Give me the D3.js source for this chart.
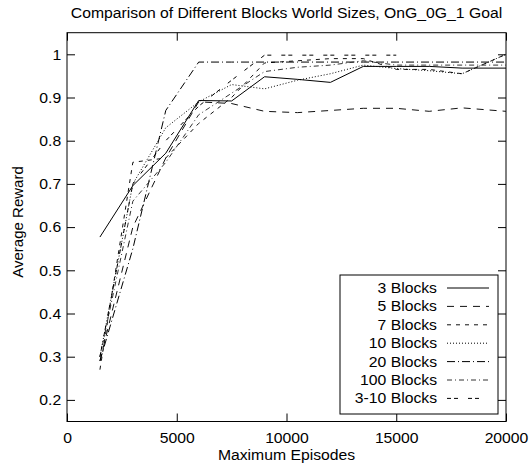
<!DOCTYPE html>
<html>
<head>
<meta charset="utf-8">
<script src="https://cdn.jsdelivr.net/npm/d3@7/dist/d3.min.js"></script>
<style>
  html, body { margin: 0; padding: 0; background: #fff; }
  svg text { font-family: "Liberation Sans", Arial, Helvetica, sans-serif; fill: #000; }
</style>
</head>
<body>
<svg id="chart" width="531" height="465"></svg>
<script>
// Episode counts at which each run was evaluated
const episodes = [1500, 3000, 4500, 6000, 7500, 9000, 10500, 12000, 13500, 15000, 16500, 18000, 20000];

// Average reward per world size
const blocks3   = [0.577, 0.696, 0.771, 0.893, 0.892, 0.948, 0.942, 0.935, 0.972, 0.972, 0.972, 0.968, 0.968];
const blocks5   = [0.290, 0.600, 0.760, 0.890, 0.886, 0.868, 0.865, 0.870, 0.875, 0.875, 0.868, 0.876, 0.868];
const blocks7   = [0.270, 0.750, 0.760, 0.840, 0.900, 0.980, 0.985, 0.990, 0.990, 0.965, 0.965, 0.955, 1.000];
const blocks10  = [0.300, 0.700, 0.830, 0.890, 0.930, 0.920, 0.940, 0.955, 0.975, 0.967, 0.962, 0.955, 1.000];
const blocks20  = [0.290, 0.550, 0.870, 0.982, 0.982, 0.982, 0.982, 0.982, 0.982, 0.982, 0.982, 0.982, 0.982];
const blocks100 = [0.300, 0.660, 0.750, 0.860, 0.910, 0.960, 0.970, 0.975, 0.985, 0.975, 0.975, 0.975, 0.975];
const blocks3to10 = [0.300, 0.700, 0.800, 0.880, 0.940, 0.998, 0.998, 0.998, 0.998, 0.998];

const seriesNames = ["3 Blocks", "5 Blocks", "7 Blocks", "10 Blocks", "20 Blocks", "100 Blocks", "3-10 Blocks"];
const seriesValues = [blocks3, blocks5, blocks7, blocks10, blocks20, blocks100, blocks3to10];
const seriesDash = ["none", "7,6", "4,5", "1,2", "8,3,1,3", "5,3,1,3", "4,3,4,10"];
const seriesColor = ["#000", "#111", "#111", "#000", "#000", "#333", "#000"];

const xTicks = [0, 5000, 10000, 15000, 20000];
const yTicks = [0.2, 0.3, 0.4, 0.5, 0.6, 0.7, 0.8, 0.9, 1];

const titleText = "Comparison of Different Blocks World Sizes, OnG_0G_1 Goal";
const xLabel = "Maximum Episodes";
const yLabel = "Average Reward";

const svg = d3.select("#chart");
const mLeft = 67, mRight = 506, mTop = 32.7, mBottom = 421.5;
const fontSize = 15;
const stretch = 1.05;   // glyphs are slightly wider than tall in this layout

const x = d3.scaleLinear().domain([0, 20000]).range([mLeft, mRight]);
const y = d3.scaleLinear().domain([0.15, 1.05]).range([mBottom, mTop]);
const tickLen = 8;

// Horizontal text helper: positioned by translate, widened by a horizontal scale
function hText(parent, tx, ty, str, anchor) {
  return parent.append("text")
    .attr("transform", `translate(${tx},${ty}) scale(${stretch},1)`)
    .attr("text-anchor", anchor || "middle")
    .style("font-size", fontSize + "px")
    .text(str);
}

// Title
hText(svg, (mLeft + mRight) / 2, 18, titleText);

// Axes with inward ticks; mirrored ticks on top and right
const gBottom = svg.append("g").attr("transform", `translate(0,${mBottom})`)
  .call(d3.axisBottom(x).tickValues(xTicks).tickSizeInner(-tickLen).tickSizeOuter(0).tickPadding(11).tickFormat(d3.format("d")));
const gTop = svg.append("g").attr("transform", `translate(0,${mTop})`)
  .call(d3.axisTop(x).tickValues(xTicks).tickSizeInner(-tickLen).tickSizeOuter(0).tickFormat(""));
const gLeft = svg.append("g").attr("transform", `translate(${mLeft},0)`)
  .call(d3.axisLeft(y).tickValues(yTicks).tickSizeInner(-tickLen).tickSizeOuter(0).tickPadding(5.5).tickFormat(d => d === 1 ? "1" : d3.format(".1f")(d)));
const gRight = svg.append("g").attr("transform", `translate(${mRight},0)`)
  .call(d3.axisRight(y).tickValues(yTicks).tickSizeInner(-tickLen).tickSizeOuter(0).tickFormat(""));

[gBottom, gTop, gLeft, gRight].forEach(g => {
  g.select(".domain").remove();
  g.selectAll(".tick line").attr("stroke", "#000").attr("stroke-width", 1);
  g.selectAll(".tick text")
    .style("font-size", fontSize + "px")
    .attr("transform", `scale(${stretch},1)`);
});

// Plot frame
svg.append("rect")
  .attr("x", mLeft).attr("y", mTop).attr("width", mRight - mLeft).attr("height", mBottom - mTop)
  .attr("fill", "none").attr("stroke", "#000").attr("stroke-width", 1);

// Axis titles
hText(svg, (mLeft + mRight) / 2, 460, xLabel);
svg.append("text")
  .attr("transform", `translate(23,222) rotate(-90)`)
  .attr("text-anchor", "middle").style("font-size", fontSize + "px")
  .text(yLabel);

// Series lines
const line = d3.line().x(d => x(d[0])).y(d => y(d[1]));
const plot = svg.append("g");
seriesValues.forEach((vals, i) => {
  plot.append("path")
    .datum(vals.map((v, j) => [episodes[j], v]))
    .attr("d", line)
    .attr("fill", "none")
    .attr("stroke", seriesColor[i])
    .attr("stroke-width", 1)
    .attr("stroke-dasharray", seriesDash[i] === "none" ? null : seriesDash[i]);
});

// Legend
const legend = svg.append("g");
legend.append("rect")
  .attr("x", 340).attr("y", 275).attr("width", 158).attr("height", 139)
  .attr("fill", "#fff").attr("stroke", "#000").attr("stroke-width", 1);
seriesNames.forEach((name, i) => {
  const cy = 288 + 18.4 * i;
  hText(legend, 437, cy + 5, name, "end");
  legend.append("line")
    .attr("x1", 447).attr("x2", 489).attr("y1", cy).attr("y2", cy)
    .attr("stroke", seriesColor[i]).attr("stroke-width", 1)
    .attr("stroke-dasharray", seriesDash[i] === "none" ? null : seriesDash[i]);
});
</script>
</body>
</html>
